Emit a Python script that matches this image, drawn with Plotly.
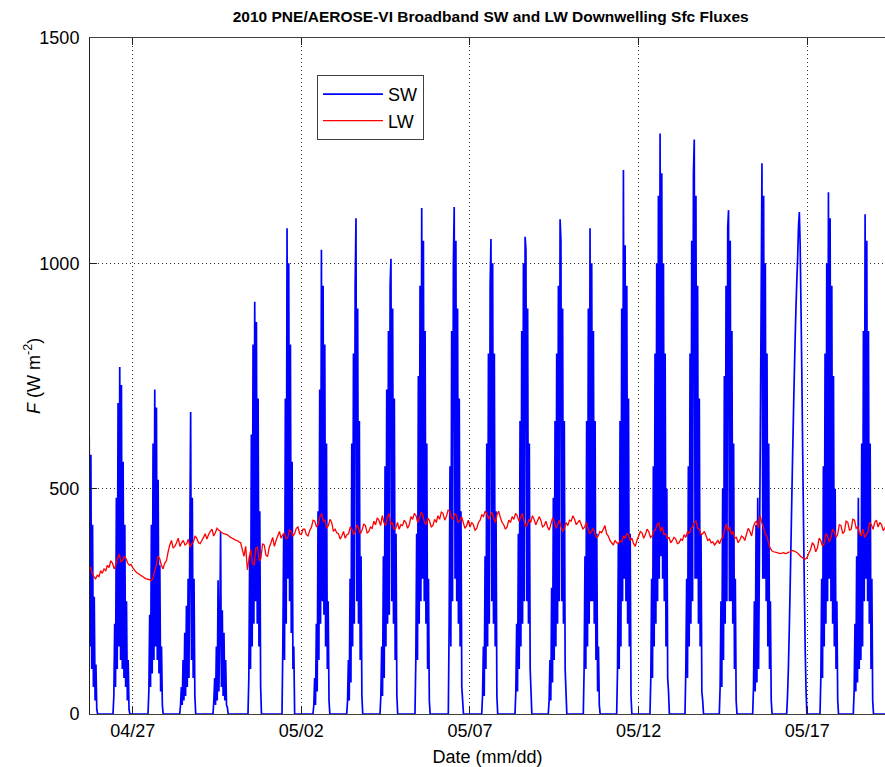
import pandas as pd
import plotly.graph_objects as go

YEAR_START = pd.Timestamp("2010-01-01")


def doy_to_dt(d):
    return YEAR_START + pd.to_timedelta(d - 1, unit="D")


# ---------------- data (day-of-year 2010, UTC) ----------------
SW_STEP = 0.025  # days between SW samples within one daylight period
sw_day_start = [115.71, 116.416, 117.454, 118.393, 119.381, 120.418, 121.426, 122.345,
                123.345, 124.332, 125.369, 126.357, 127.347, 128.334, 129.321, 130.359,
                131.349, 132.336, 133.374, 134.391, 135.381, 136.389, 137.377, 138.364,
                139.40]
sw_day_values = [
    [620, 150, 575, 100, 420, 60, 260, 30, 110, 10, 0],
    [0, 40, 200, 60, 480, 100, 690, 150, 770, 120, 730, 100, 560, 80, 420, 60, 250, 30, 120, 10, 0],
    [0, 50, 220, 60, 420, 90, 600, 120, 720, 150, 680, 120, 520, 90, 330, 50, 150, 20, 0],
    [0, 20, 60, 20, 120, 30, 180, 40, 240, 60, 300, 80, 380, 670, 120, 480, 80, 300, 40, 0],
    [0, 30, 80, 20, 150, 30, 297, 50, 200, 404, 60, 230, 40, 180, 30, 120, 20, 15, 0],
    [0, 80, 350, 100, 620, 150, 820, 200, 915, 250, 870, 200, 700, 150, 450, 60, 0],
    [0, 150, 400, 120, 700, 200, 1078, 300, 1000, 250, 820, 180, 560, 100, 150, 0],
    [0, 20, 80, 20, 200, 50, 450, 120, 720, 200, 1030, 250, 950, 220, 820, 150, 600, 100, 250, 30, 0],
    [0, 30, 120, 30, 300, 70, 600, 150, 800, 200, 950, 1100, 250, 900, 200, 650, 120, 350, 40, 0],
    [0, 40, 150, 40, 350, 80, 550, 150, 720, 200, 850, 220, 950, 1010, 250, 900, 200, 700, 120, 400, 40, 0],
    [0, 120, 400, 120, 750, 200, 950, 250, 1123, 300, 1050, 250, 850, 200, 600, 100, 300, 30, 0],
    [0, 200, 550, 150, 850, 250, 1000, 1125, 300, 1050, 250, 900, 200, 700, 150, 450, 60, 30, 0],
    [0, 40, 150, 40, 350, 100, 600, 150, 800, 200, 950, 1054, 250, 1000, 200, 800, 150, 450, 40, 0],
    [0, 50, 200, 50, 400, 100, 650, 150, 850, 200, 1000, 250, 1059, 1030, 250, 900, 200, 600, 100, 50, 0],
    [0, 30, 120, 30, 280, 70, 480, 120, 650, 150, 800, 200, 950, 250, 1098, 1050, 250, 900, 200, 650, 100, 50, 0],
    [0, 100, 350, 100, 650, 150, 900, 200, 1078, 250, 1000, 250, 850, 200, 650, 120, 400, 50, 150, 20, 0],
    [0, 100, 380, 100, 650, 150, 900, 250, 1207, 300, 1040, 250, 950, 200, 700, 150, 400, 40, 0],
    [0, 80, 300, 80, 550, 150, 800, 200, 1000, 250, 1150, 300, 1288, 350, 1200, 300, 1000, 250, 800, 150, 500, 80, 50, 0],
    [0, 100, 300, 80, 550, 150, 800, 200, 1050, 250, 1200, 1275, 300, 1150, 300, 950, 200, 700, 150, 400, 50, 30, 0],
    [0, 60, 250, 60, 500, 120, 750, 200, 950, 250, 1080, 1118, 250, 1050, 250, 850, 200, 600, 100, 300, 30, 0],
    [0, 60, 250, 50, 420, 70, 480, 100, 350, 600, 900, 1222, 300, 1150, 300, 1000, 250, 800, 150, 600, 100, 250, 30, 0],
    [0, 40, 100, 180, 270, 370, 470, 570, 660, 750, 830, 900, 960, 1010, 1080, 1114, 1040, 900, 750, 580, 420, 270, 140, 50, 0],
    [0, 80, 300, 80, 550, 150, 800, 200, 1000, 250, 1158, 300, 1100, 250, 950, 200, 750, 150, 500, 100, 250, 30, 0],
    [0, 50, 200, 50, 350, 70, 480, 100, 400, 120, 600, 150, 850, 250, 1109, 300, 1050, 250, 850, 200, 600, 100, 300, 30, 0],
    [0],
]

LW_START = 115.7
LW_STEP = 0.05
lw_values = [
    320, 326, 312, 304, 300, 308, 305, 318, 312, 322, 318, 330, 325, 340, 335, 322, 330, 345, 355, 338,
    340, 350, 345, 335, 330, 332, 325, 320,
    315, 312, 310, 307, 305, 302, 300, 299, 298, 296, 300, 318, 330, 350, 345, 330, 322, 335, 340, 360,
    375, 385, 368, 372, 380, 390, 372, 380, 385, 375, 378, 388, 370, 378, 382, 395, 390, 380, 378, 385,
    392, 400, 388, 398, 405, 410, 395, 402, 412, 408, 405, 402, 400, 399, 398, 395, 392, 390, 388, 386,
    385, 382, 380, 365, 350, 372, 320, 345, 365, 335, 330, 368, 370, 340, 345, 378, 375, 352, 350, 370,
    380, 392, 372, 385, 395, 405, 390, 398, 402, 388, 392, 408, 405, 395, 400, 412, 415, 400, 398, 410,
    410, 398, 395, 408, 415, 430, 428, 415, 420, 438, 445, 428, 430, 412, 418, 432, 425, 405, 410, 402,
    400, 388, 395, 405, 390, 398, 400, 415, 410, 398, 405, 420, 412, 400, 408, 422, 418, 402, 405, 415,
    412, 428, 420, 435, 430, 418, 440, 425, 418, 438, 445, 420, 425, 410, 412, 425, 410, 420, 418, 430,
    425, 412, 420, 438, 432, 445, 440, 425, 435, 448, 442, 425, 420, 435, 428, 415, 418, 432, 425, 440,
    432, 448, 445, 430, 438, 452, 450, 435, 432, 445, 440, 425, 428, 438, 425, 412, 418, 430, 415, 425,
    420, 408, 412, 425, 430, 442, 438, 450, 445, 432, 440, 448, 435, 425, 442, 450, 436, 425, 420, 410,
    415, 430, 425, 438, 432, 445, 440, 428, 436, 445, 430, 415, 420, 432, 425, 440, 432, 420, 428, 438,
    430, 415, 418, 428, 415, 408, 422, 435, 428, 412, 420, 430, 415, 405, 412, 425, 418, 430, 428, 440,
    432, 420, 425, 430, 420, 410, 415, 425, 410, 400, 405, 412, 400, 392, 395, 405, 402, 410, 418, 400,
    395, 385, 380, 375, 385, 380, 378, 384, 382, 395, 390, 400, 398, 385, 390, 378, 372, 385, 395, 405,
    402, 390, 398, 410, 405, 392, 395, 405, 410, 420, 425, 405, 415, 398, 400, 390, 392, 380, 385, 392,
    388, 378, 380, 388, 385, 398, 392, 405, 400, 412, 415, 425, 428, 412, 410, 398, 400, 405, 395, 385,
    388, 380, 382, 375, 380, 385, 378, 388, 392, 410, 422, 405, 415, 398, 405, 390, 392, 380, 386, 395,
    392, 385, 400, 412, 405, 395, 415, 425, 428, 412, 440, 425, 415, 400, 395, 380, 368, 362, 360, 359,
    358, 357, 356, 357, 358, 356, 357, 359, 360, 363, 362, 360, 358, 354, 350, 347, 345, 344, 348, 358,
    365, 380, 375, 360, 368, 390, 385, 372, 378, 400, 395, 382, 390, 410, 405, 392, 398, 420, 418, 400,
    405, 428, 425, 408, 410, 432, 430, 412, 415, 400, 395, 410, 392, 398, 405, 425, 420, 410, 425, 430,
    415, 425, 420, 408, 412, 422, 418,
]

x_range_doy = [115.734, 139.304]
x_tick_doy = [117, 122, 127, 132, 137]
x_tick_labels = ["04/27", "05/02", "05/07", "05/12", "05/17"]
y_ticks = [0, 500, 1000, 1500]

# ---------------- build series ----------------
sw_t, sw_v = [], []
for start, vals in zip(sw_day_start, sw_day_values):
    for i, v in enumerate(vals):
        sw_t.append(doy_to_dt(start + i * SW_STEP))
        sw_v.append(v)

lw_t = [doy_to_dt(LW_START + i * LW_STEP) for i in range(len(lw_values))]

FONT = "Liberation Sans, Arial, Helvetica, sans-serif"

fig = go.Figure()
fig.add_trace(go.Scatter(x=sw_t, y=sw_v, mode="lines", name="SW", legendgroup="sw",
                         line=dict(color="#0000FF", width=1.7, simplify=False)))
fig.add_trace(go.Scatter(x=lw_t, y=lw_values, mode="lines", name="LW", legendgroup="lw",
                         line=dict(color="#FF0000", width=1.3, simplify=False)))

fig.update_layout(
    width=885, height=767,
    margin=dict(l=90, r=0, t=38, b=53),
    paper_bgcolor="white", plot_bgcolor="white",
    font=dict(family=FONT, size=18, color="black"),
    title=dict(text="<b>2010 PNE/AEROSE-VI Broadband SW and LW Downwelling Sfc Fluxes</b>",
               x=0.504, xref="paper", xanchor="center",
               y=1 - 17 / 767, yref="container", yanchor="middle",
               font=dict(family=FONT, size=15.5, color="black")),
    showlegend=True,
    legend=dict(x=0.2855, y=0.9453, xanchor="left", yanchor="top",
                bgcolor="white", bordercolor="#404040", borderwidth=1,
                font=dict(family=FONT, size=18), tracegroupgap=0, itemwidth=60),
    annotations=[dict(text="<i>F</i> (W m<sup>-2</sup>)", textangle=-90,
                      x=-0.073, xref="paper", y=0.5, yref="paper",
                      xanchor="center", yanchor="middle", showarrow=False,
                      font=dict(family=FONT, size=18, color="black"))],
)

fig.update_xaxes(
    type="date",
    range=[doy_to_dt(x_range_doy[0]), doy_to_dt(x_range_doy[1])],
    tickmode="array",
    tickvals=[doy_to_dt(d) for d in x_tick_doy],
    ticktext=x_tick_labels,
    ticks="inside", ticklen=7, tickcolor="#202020",
    showline=True, linecolor="#404040", linewidth=1, mirror="ticks",
    showgrid=True, gridcolor="#303030", gridwidth=1, griddash="1px,3px",
    zeroline=False,
    ticklabelstandoff=0,
    title=dict(text="Date (mm/dd)", standoff=12, font=dict(family=FONT, size=18)),
)
fig.update_yaxes(
    range=[0, 1500],
    tickmode="array", tickvals=y_ticks, ticktext=[str(v) for v in y_ticks],
    ticks="inside", ticklen=7, tickcolor="#202020",
    showline=True, linecolor="#202020", linewidth=1, mirror=False,
    showgrid=True, gridcolor="#303030", gridwidth=1, griddash="1px,3px",
    zeroline=False,
    ticklabelstandoff=6,
)

fig.write_html("out.html")
